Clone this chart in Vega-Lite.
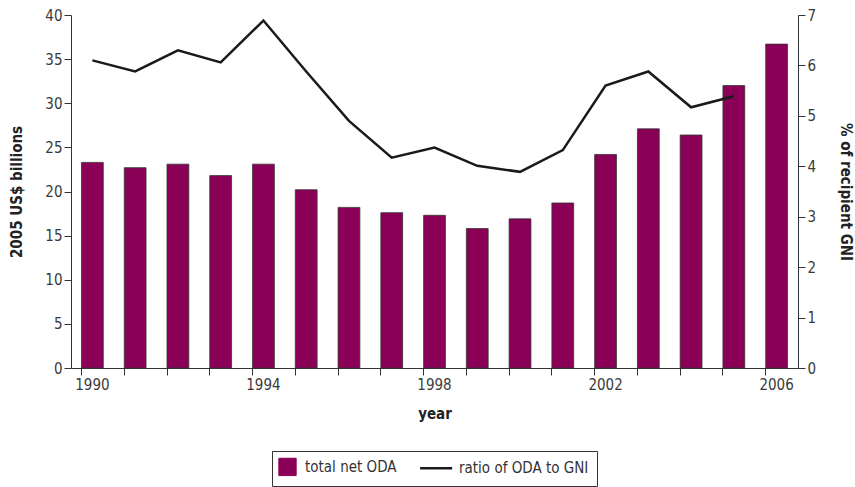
{
  "$schema": "https://vega.github.io/schema/vega-lite/v6.json",
  "width": 727,
  "height": 353,
  "autosize": {"type": "none"},
  "padding": {"left": 71, "top": 15, "right": 57, "bottom": 119},
  "background": "white",
  "config": {
    "font": "DejaVu Sans Condensed, sans-serif",
    "view": {"stroke": null},
    "axis": {
      "labelFont": "DejaVu Sans Condensed, sans-serif",
      "titleFont": "DejaVu Sans Condensed, sans-serif",
      "labelFontSize": 15,
      "titleFontSize": 15,
      "titleFontWeight": "bold",
      "labelColor": "#3a3a3a",
      "titleColor": "#222",
      "domainColor": "#333",
      "tickColor": "#333",
      "grid": false
    },
    "legend": {
      "labelFont": "DejaVu Sans Condensed, sans-serif",
      "labelFontSize": 15,
      "labelColor": "#333",
      "layout": {"bottom": {"anchor": "middle"}}
    }
  },
  "data": {
    "values": [
      {"year": 1990, "oda": 23.3, "ratio": 6.10},
      {"year": 1991, "oda": 22.7, "ratio": 5.88},
      {"year": 1992, "oda": 23.1, "ratio": 6.30},
      {"year": 1993, "oda": 21.8, "ratio": 6.06},
      {"year": 1994, "oda": 23.1, "ratio": 6.89},
      {"year": 1995, "oda": 20.2, "ratio": 5.88},
      {"year": 1996, "oda": 18.2, "ratio": 4.90},
      {"year": 1997, "oda": 17.6, "ratio": 4.17},
      {"year": 1998, "oda": 17.3, "ratio": 4.37},
      {"year": 1999, "oda": 15.8, "ratio": 4.01},
      {"year": 2000, "oda": 16.9, "ratio": 3.89},
      {"year": 2001, "oda": 18.7, "ratio": 4.32},
      {"year": 2002, "oda": 24.2, "ratio": 5.60},
      {"year": 2003, "oda": 27.1, "ratio": 5.88},
      {"year": 2004, "oda": 26.4, "ratio": 5.17},
      {"year": 2005, "oda": 32.0, "ratio": 5.39},
      {"year": 2006, "oda": 36.7, "ratio": null}
    ]
  },
  "encoding": {
    "x": {
      "field": "year",
      "type": "ordinal",
      "scale": {"paddingInner": 0.49, "paddingOuter": 0.245},
      "axis": {
        "title": "year",
        "labelAngle": 0,
        "bandPosition": 0,
        "tickSize": 7,
        "labelPadding": 2,
        "titlePadding": 14,
        "labelExpr": "datum.value % 4 == 2 ? datum.label : ''"
      }
    }
  },
  "layer": [
    {
      "mark": {"type": "bar", "stroke": "#333", "strokeWidth": 0.8},
      "encoding": {
        "y": {
          "field": "oda",
          "type": "quantitative",
          "scale": {"domain": [0, 40]},
          "axis": {"title": "2005 US$ billions", "values": [0,5,10,15,20,25,30,35,40], "tickSize": 7, "titlePadding": 20}
        },
        "color": {
          "datum": "total net ODA",
          "type": "nominal",
          "scale": {"domain": ["total net ODA", "ratio of ODA to GNI"], "range": ["#8B0057", "#1a1a1a"]},
          "legend": {
            "title": null,
            "orient": "bottom",
            "direction": "horizontal",
            "offset": 30,
            "strokeColor": "#333",
            "padding": 8,
            "columnPadding": 18,
            "symbolSize": 300,
            "labelOffset": 10,
            "encode": {
              "symbols": {
                "update": {
                  "shape": {"signal": "datum.value == 'total net ODA' ? 'square' : 'M-2.47,0L1.23,0'"},
                  "size": {"value": 300},
                  "fill": {"signal": "datum.value == 'total net ODA' ? '#8B0057' : 'transparent'"},
                  "stroke": {"signal": "datum.value == 'total net ODA' ? '#333' : '#1a1a1a'"},
                  "strokeWidth": {"signal": "datum.value == 'total net ODA' ? 1 : 2.5"}
                }
              }
            }
          }
        }
      }
    },
    {
      "mark": {"type": "line", "strokeWidth": 2.5},
      "encoding": {
        "y": {
          "field": "ratio",
          "type": "quantitative",
          "scale": {"domain": [0, 7]},
          "axis": {"title": "% of recipient GNI", "orient": "right", "values": [0,1,2,3,4,5,6,7], "tickSize": 7, "titlePadding": 22}
        },
        "color": {
          "datum": "ratio of ODA to GNI",
          "type": "nominal",
          "legend": {
            "title": null,
            "orient": "bottom",
            "direction": "horizontal",
            "offset": 30,
            "strokeColor": "#333",
            "padding": 8,
            "columnPadding": 18,
            "symbolSize": 300,
            "labelOffset": 10,
            "encode": {
              "symbols": {
                "update": {
                  "shape": {"signal": "datum.value == 'total net ODA' ? 'square' : 'M-2.47,0L1.23,0'"},
                  "size": {"value": 300},
                  "fill": {"signal": "datum.value == 'total net ODA' ? '#8B0057' : 'transparent'"},
                  "stroke": {"signal": "datum.value == 'total net ODA' ? '#333' : '#1a1a1a'"},
                  "strokeWidth": {"signal": "datum.value == 'total net ODA' ? 1 : 2.5"}
                }
              }
            }
          }
        }
      }
    }
  ],
  "resolve": {"scale": {"y": "independent"}}
}
